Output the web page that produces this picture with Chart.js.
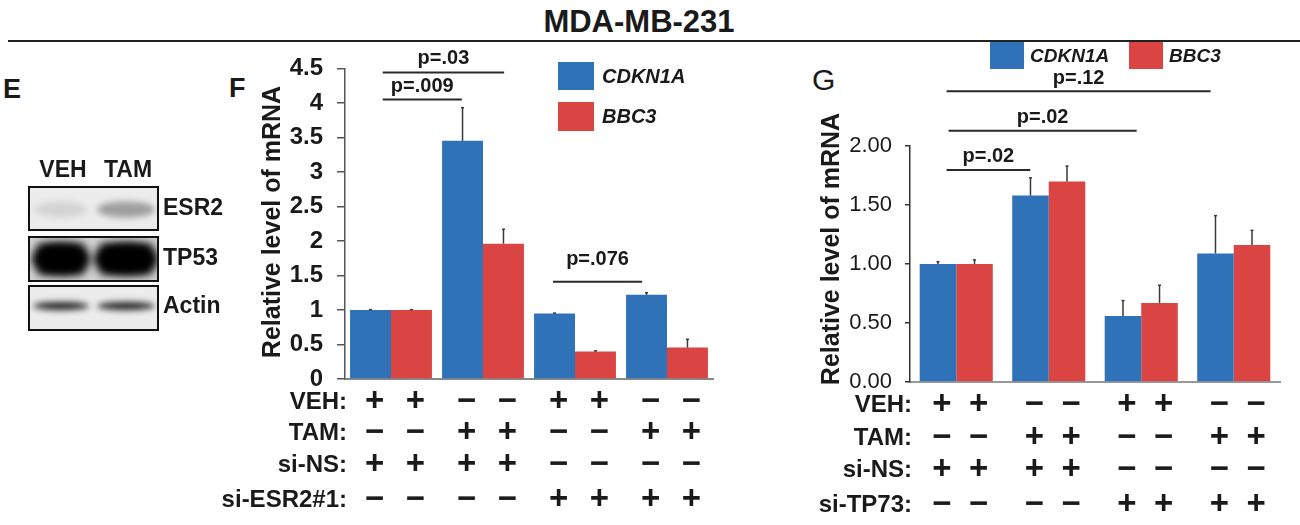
<!DOCTYPE html>
<html><head><meta charset="utf-8">
<script src="https://cdn.jsdelivr.net/npm/chart.js@4.4.1/dist/chart.umd.min.js"></script>
<style>
html,body{margin:0;padding:0;background:#fff;}
body{width:1300px;height:525px;position:relative;overflow:hidden;font-family:"Liberation Sans",Arial,sans-serif;color:#1a1a1a;}
.abs{position:absolute;}
#title{left:-11px;top:6px;width:1300px;text-align:center;font-weight:bold;font-size:31px;line-height:31px;}
#rule{left:8px;top:40px;width:1292px;height:2px;background:#222;}
.plab{font-weight:bold;font-size:27px;line-height:27px;}
</style></head><body>
<div id="title" class="abs">MDA-MB-231</div>
<div id="rule" class="abs"></div>
<div class="abs plab" style="left:3px;top:76px;">E</div>
<div class="abs plab" style="left:229px;top:75px;">F</div>
<div class="abs" style="left:812px;top:65px;font-size:30px;line-height:30px;">G</div>
<canvas id="blot" class="abs" width="240" height="200" style="left:0;top:150px"></canvas>
<canvas id="chartF" class="abs" width="520" height="485" style="left:200px;top:40px"></canvas>
<canvas id="chartG" class="abs" width="520" height="485" style="left:780px;top:40px"></canvas>
<script>
// ---------------- DATA ----------------
const groupsF = ['si-NS VEH', 'si-NS TAM', 'si-ESR2#1 VEH', 'si-ESR2#1 TAM'];
const cdkn1aF = [1.00, 3.45, 0.95, 1.22];
const cdkn1aErrF = [0.005, 0.48, 0.005, 0.03];
const bbc3F = [1.00, 1.96, 0.40, 0.455];
const bbc3ErrF = [0.005, 0.21, 0.008, 0.12];

const groupsG = ['si-NS VEH', 'si-NS TAM', 'si-TP73 VEH', 'si-TP73 TAM'];
const cdkn1aG = [1.00, 1.58, 0.56, 1.09];
const cdkn1aErrG = [0.02, 0.15, 0.13, 0.32];
const bbc3G = [1.00, 1.70, 0.67, 1.16];
const bbc3ErrG = [0.035, 0.13, 0.15, 0.125];

const seriesNames = ['CDKN1A', 'BBC3'];
const rowNamesF = ['VEH:', 'TAM:', 'si-NS:', 'si-ESR2#1:'];
const rowNamesG = ['VEH:', 'TAM:', 'si-NS:', 'si-TP73:'];
const vehRow  = ['+','+','\u2212','\u2212','+','+','\u2212','\u2212'];
const tamRow  = ['\u2212','\u2212','+','+','\u2212','\u2212','+','+'];
const siNSRow = ['+','+','+','+','\u2212','\u2212','\u2212','\u2212'];
const siKDRow = ['\u2212','\u2212','\u2212','\u2212','+','+','+','+'];

const pLabelsF = ['p=.03', 'p=.009', 'p=.076'];
const pLabelsG = ['p=.12', 'p=.02', 'p=.02'];
const blotLanes = ['VEH', 'TAM'];
const blotProteins = ['ESR2', 'TP53', 'Actin'];

// ---------------- STYLE ----------------
const FONT = "'Liberation Sans', Arial, sans-serif";
const BLUE = 'rgb(47,114,184)';
const RED = 'rgb(218,69,68)';
const INK = '#1a1a1a';
Chart.defaults.font.family = FONT;

function makeDecor(cfg) {
  return {
    id: 'decor' + cfg.name,
    afterDatasetsDraw(chart) {
      const ctx = chart.ctx, ys = chart.scales.y;
      ctx.save();
      ctx.strokeStyle = '#3a3a3a';
      ctx.lineWidth = 1.5;
      chart.data.datasets.forEach((ds, i) => {
        chart.getDatasetMeta(i).data.forEach((bar, j) => {
          const top = ys.getPixelForValue(ds.data[j] + ds.errors[j]);
          ctx.beginPath(); ctx.moveTo(bar.x, bar.y); ctx.lineTo(bar.x, top); ctx.stroke();
          ctx.beginPath(); ctx.moveTo(bar.x - 1.5, top); ctx.lineTo(bar.x + 1.5, top); ctx.stroke();
        });
      });
      ctx.restore();
    },
    afterDraw(chart) {
      const ctx = chart.ctx, xs = chart.scales.x, ys = chart.scales.y, ca = chart.chartArea;
      ctx.save();
      ctx.translate(cfg.titleX, cfg.titleY);
      ctx.rotate(-Math.PI / 2);
      ctx.font = 'bold ' + cfg.titleSize + 'px ' + FONT;
      ctx.fillStyle = INK; ctx.textAlign = 'center'; ctx.textBaseline = 'middle';
      ctx.fillText('Relative level of mRNA', 0, 0);
      ctx.restore();
      ctx.save();
      ctx.font = 'italic bold ' + cfg.legendSize + 'px ' + FONT;
      ctx.textBaseline = 'middle'; ctx.textAlign = 'left';
      cfg.legend.forEach((L, i) => {
        const ds = chart.data.datasets[i];
        ctx.fillStyle = ds.backgroundColor;
        ctx.fillRect(L.x, L.y, L.w, L.h);
        ctx.fillStyle = INK;
        ctx.fillText(ds.label, L.tx, L.y + L.h / 2 + 1);
      });
      ctx.strokeStyle = '#2a2a2a'; ctx.lineWidth = 2;
      ctx.font = 'bold 20px ' + FONT; ctx.textAlign = 'center'; ctx.fillStyle = INK;
      cfg.brackets.forEach(b => {
        const x1 = xs.getPixelForValue(b.from), x2 = xs.getPixelForValue(b.to), y = ys.getPixelForValue(b.y);
        ctx.beginPath(); ctx.moveTo(x1, y); ctx.lineTo(x2, y); ctx.stroke();
        ctx.fillText(b.label, (x1 + x2) / 2 + (b.dx || 0), y - b.dy);
      });
      const rows = [vehRow, tamRow, siNSRow, siKDRow];
      rows.forEach((row, r) => {
        const y = ca.bottom + cfg.rowOffsets[r];
        ctx.textAlign = 'right';
        ctx.font = 'bold 24px ' + FONT;
        ctx.fillText(cfg.rowNames[r], ca.left + 2, y);
        ctx.textAlign = 'center';
        ctx.font = 'bold 33px ' + FONT;
        row.forEach((sym, c) => {
          const bar = chart.getDatasetMeta(c % 2).data[Math.floor(c / 2)];
          ctx.fillText(sym, bar.x + 4, y);
        });
      });
      ctx.restore();
    }
  };
}

function makeChart(id, labels, a, aErr, b, bErr, yCfg, layoutCfg, decorCfg, catPct) {
  return new Chart(document.getElementById(id), {
    type: 'bar',
    data: {
      labels: labels,
      datasets: [
        { label: seriesNames[0], data: a, errors: aErr, backgroundColor: BLUE, borderWidth: 0 },
        { label: seriesNames[1], data: b, errors: bErr, backgroundColor: RED, borderWidth: 0 }
      ]
    },
    options: {
      responsive: false, animation: false,
      categoryPercentage: catPct, barPercentage: 1.0,
      layout: { padding: layoutCfg.padding },
      plugins: { legend: { display: false }, tooltip: { enabled: false } },
      scales: {
        x: {
          ticks: { display: false },
          grid: { display: false },
          border: { display: true, color: layoutCfg.xColor, width: layoutCfg.xWidth },
          afterFit: s => { s.height = layoutCfg.xHeight; }
        },
        y: {
          min: yCfg.min, max: yCfg.max,
          ticks: {
            stepSize: yCfg.step, padding: yCfg.pad, color: INK,
            font: { size: yCfg.fontSize, weight: yCfg.weight, family: FONT },
            callback: yCfg.fmt
          },
          grid: { display: true, drawOnChartArea: false, drawTicks: true, tickLength: yCfg.tickLen, color: yCfg.axisColor, lineWidth: 1.5 },
          border: { display: true, color: yCfg.axisColor, width: 1.5 },
          afterFit: s => { s.width = layoutCfg.yWidth; }
        }
      }
    },
    plugins: [makeDecor(decorCfg)]
  });
}

makeChart('chartF', groupsF, cdkn1aF, cdkn1aErrF, bbc3F, bbc3ErrF,
  { min: 0, max: 4.5, step: 0.5, pad: 14, fontSize: 24, weight: 'bold', tickLen: 8, axisColor: '#555', fmt: v => String(v) },
  { padding: { left: 0, right: 7, top: 26, bottom: 0 }, xHeight: 146, yWidth: 145, xColor: '#888', xWidth: 2 },
  {
    name: 'F', titleX: 73, titleY: 182, titleSize: 25, legendSize: 20,
    legend: [
      { x: 358, y: 22, w: 36, h: 28, tx: 402 },
      { x: 358, y: 62, w: 36, h: 29, tx: 402 }
    ],
    brackets: [
      { from: -0.09, to: 1.23, y: 4.44, label: pLabelsF[0], dy: 14 },
      { from: -0.09, to: 0.77, y: 4.05, label: pLabelsF[1], dy: 13 },
      { from: 1.76, to: 2.73, y: 1.41, label: pLabelsF[2], dy: 22 }
    ],
    rowNames: rowNamesF, rowOffsets: [23, 54, 86, 121]
  }, 0.89);

makeChart('chartG', groupsG, cdkn1aG, cdkn1aErrG, bbc3G, bbc3ErrG,
  { min: 0, max: 2, step: 0.5, pad: 13, fontSize: 22, weight: 'normal', tickLen: 5, axisColor: '#333', fmt: v => v.toFixed(2) },
  { padding: { left: 0, right: 20, top: 106, bottom: 0 }, xHeight: 143, yWidth: 130, xColor: '#999', xWidth: 2 },
  {
    name: 'G', titleX: 52, titleY: 209, titleSize: 25, legendSize: 19,
    legend: [
      { x: 210, y: 2, w: 34, h: 27, tx: 250 },
      { x: 349, y: 2, w: 34, h: 27, tx: 389 }
    ],
    brackets: [
      { from: -0.105, to: 2.75, y: 2.465, label: pLabelsG[0], dy: 13 },
      { from: -0.083, to: 1.95, y: 2.13, label: pLabelsG[1], dy: 13 },
      { from: -0.105, to: 0.80, y: 1.797, label: pLabelsG[2], dy: 13 }
    ],
    rowNames: rowNamesG, rowOffsets: [23, 56, 88, 123]
  }, 0.79);

(function drawBlot() {
  const c = document.getElementById('blot');
  const ctx = c.getContext('2d');
  const top = 150;
  const boxX = 29, boxW = 129;
  const boxes = [[187, 43], [237, 44], [286, 44]];
  const laneX = [61, 126];
  const bands = [
    { a: [0.10, 0.33], h: 16, w: [52, 58], dy: 1 },
    { a: [1.0, 1.0], h: 30, w: [58, 64], dy: 0 },
    { a: [0.85, 0.85], h: 8, w: [56, 58], dy: -2 }
  ];
  boxes.forEach(([y, h], i) => {
    const yy = y - top;
    ctx.save();
    ctx.beginPath(); ctx.rect(boxX, yy, boxW, h); ctx.clip();
    ctx.fillStyle = i === 1 ? '#d4d4d4' : '#ececec';
    ctx.fillRect(boxX, yy, boxW, h);
    ctx.filter = i === 1 ? 'blur(5px)' : 'blur(3px)';
    const B = bands[i];
    laneX.forEach((lx, l) => {
      ctx.fillStyle = 'rgba(0,0,0,' + B.a[l] + ')';
      const cy = yy + h / 2 + B.dy;
      ctx.beginPath();
      ctx.ellipse(lx, cy, B.w[l] / 2, B.h / 2, 0, 0, Math.PI * 2);
      ctx.fill();
      if (i === 1) { ctx.fillRect(lx - B.w[l] / 2 + 6, cy - B.h / 2, B.w[l] - 12, B.h); }
    });
    ctx.restore();
    ctx.strokeStyle = '#111'; ctx.lineWidth = 2;
    ctx.strokeRect(boxX, yy, boxW, h);
  });
  ctx.fillStyle = INK;
  ctx.font = 'bold 23px ' + FONT;
  ctx.textBaseline = 'middle';
  ctx.textAlign = 'center';
  ctx.fillText(blotLanes[0], 63, 171 - top);
  ctx.fillText(blotLanes[1], 128, 171 - top);
  ctx.textAlign = 'left';
  const ly = [209, 259, 307];
  blotProteins.forEach((p, i) => ctx.fillText(p, 163, ly[i] - top));
})();
</script>
</body></html>
